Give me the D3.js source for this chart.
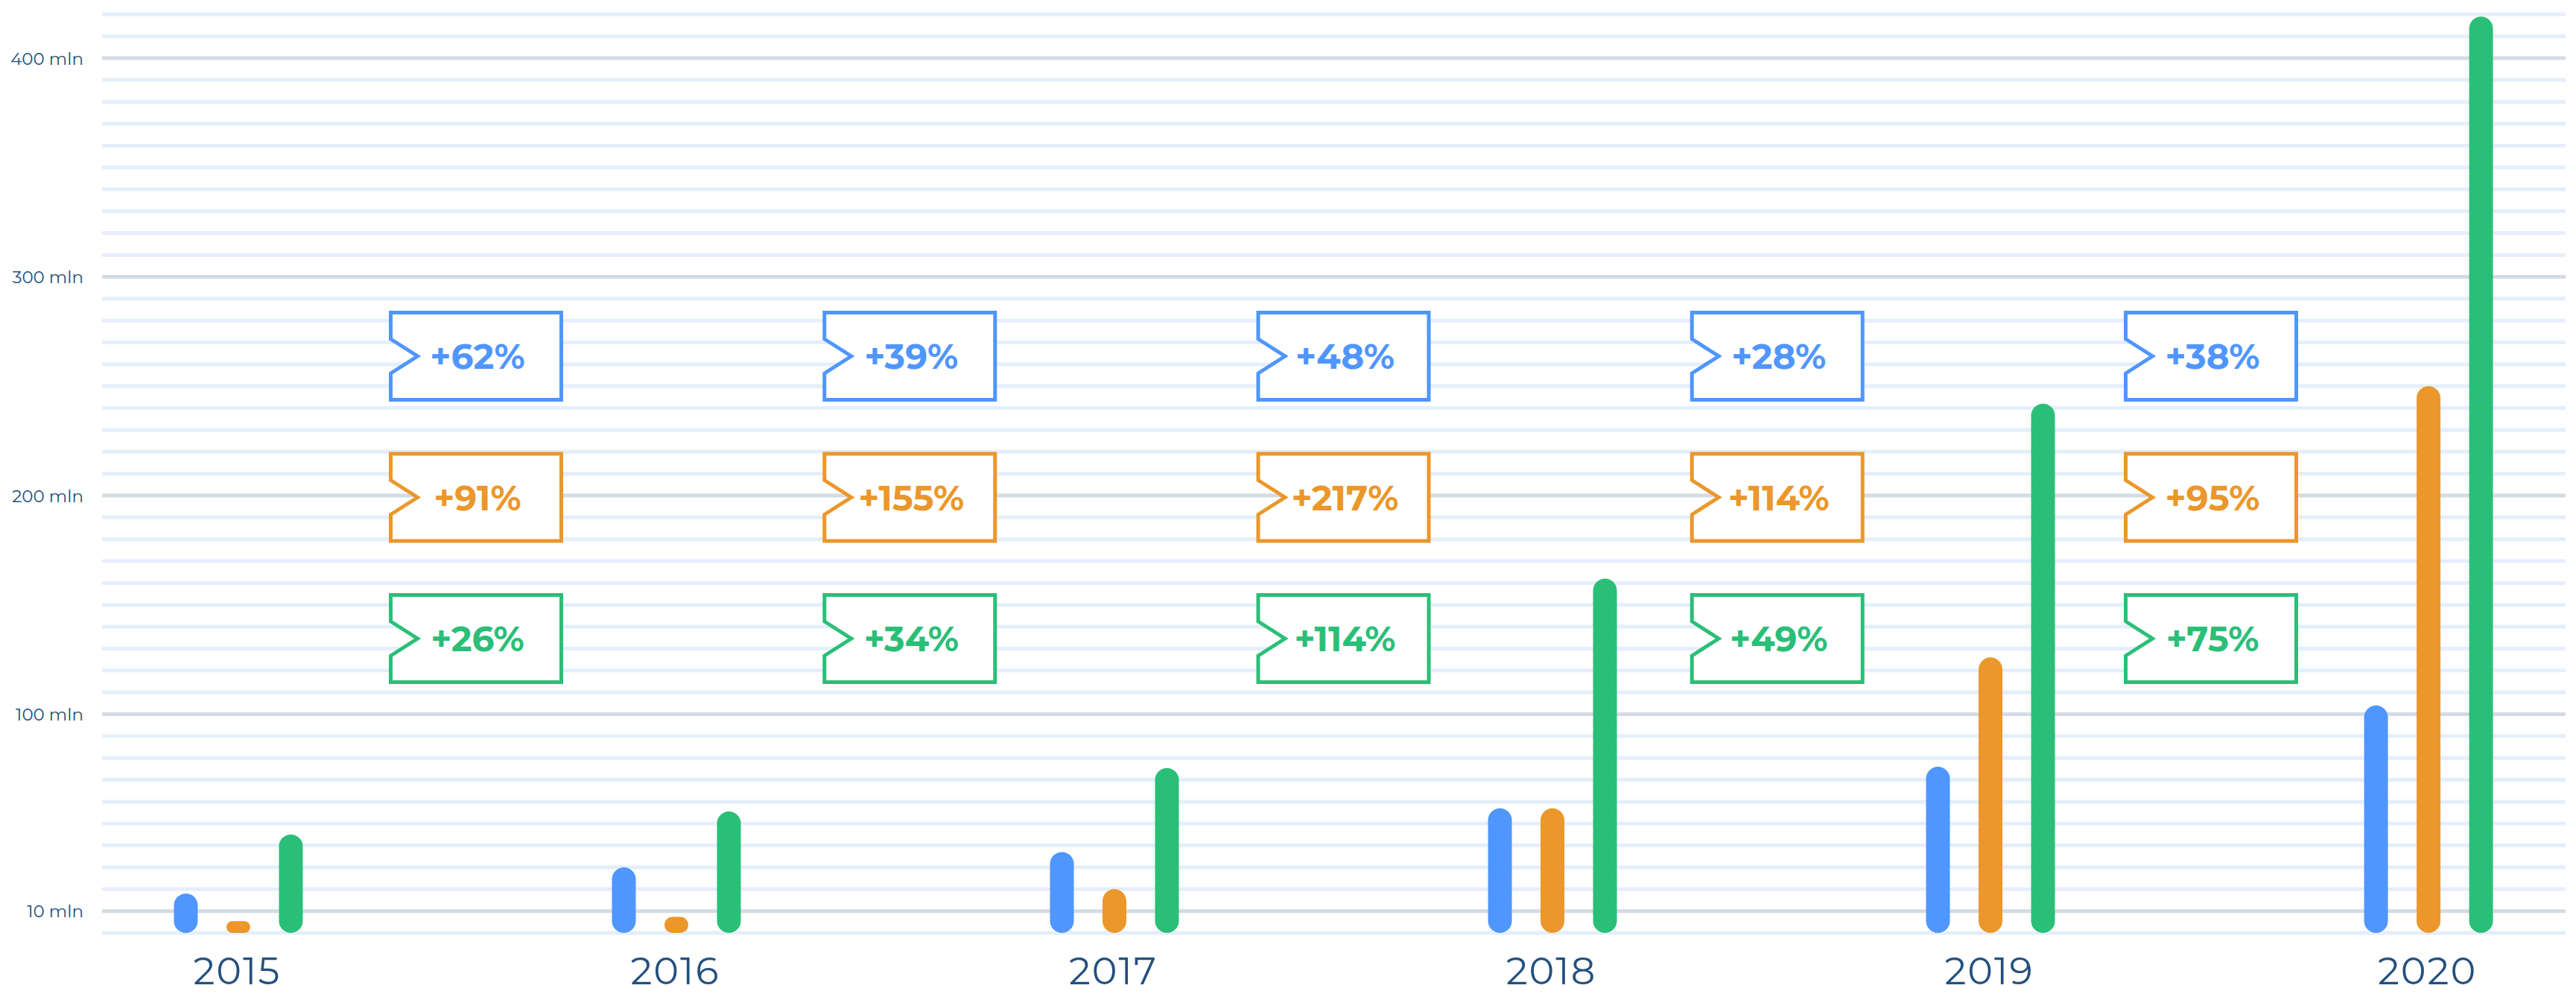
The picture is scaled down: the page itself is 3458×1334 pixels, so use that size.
<!DOCTYPE html>
<html>
<head>
<meta charset="utf-8">
<script src="https://cdn.jsdelivr.net/npm/d3@7"></script>
<style>
  body { margin: 0; background: #fff; }
  text { font-family: "Montserrat", "Inter", "Lato", sans-serif; }
</style>
</head>
<body>
<svg id="chart"></svg>
<script>
// data (mln)
const years = ["2015", "2016", "2017", "2018", "2019", "2020"];
const blueVals = [18, 30, 37, 57, 76, 104];
const orangeVals = [5.4, 7.3, 20, 57, 126, 250];
const greenVals = [45, 55.5, 75.4, 162, 242, 419];

// growth tags between consecutive years
const blueGrowth = ["+62%", "+39%", "+48%", "+28%", "+38%"];
const orangeGrowth = ["+91%", "+155%", "+217%", "+114%", "+95%"];
const greenGrowth = ["+26%", "+34%", "+114%", "+49%", "+75%"];

const yTicks = [10, 100, 200, 300, 400];
const yTickLabels = ["10 mln", "100 mln", "200 mln", "300 mln", "400 mln"];
const yMax = 420;
const gridStep = 10;

const width = 3458;
const height = 1334;
const colors = { blue: "#4f96fe", orange: "#eb972b", green: "#2abf77" };
const textColor = "#23507f";

const series = [
  { key: "blue", values: blueVals, growth: blueGrowth },
  { key: "orange", values: orangeVals, growth: orangeGrowth },
  { key: "green", values: greenVals, growth: greenGrowth }
];

const svg = d3.select("#chart").attr("width", width).attr("height", height);

const x = d3.scalePoint().domain(years).range([137, 3444]).padding(0.312);
const xSeries = d3.scalePoint().domain(series.map(s => s.key)).range([-71, 70]);
const y = d3.scaleLinear().domain([0, yMax]).range([1252, 19.3]);

// grid
const gridVals = d3.range(0, yMax + 1, gridStep);
svg.append("g")
  .selectAll("line")
  .data(gridVals)
  .join("line")
    .attr("x1", 137)
    .attr("x2", 3444)
    .attr("y1", d => y(d))
    .attr("y2", d => y(d))
    .attr("stroke", d => yTicks.includes(d) ? "#d3dce4" : "#e4eefc")
    .attr("stroke-width", 5);

// y labels
svg.append("g")
  .selectAll("text")
  .data(yTicks)
  .join("text")
    .attr("x", 112)
    .attr("y", d => y(d) + 8.5)
    .attr("text-anchor", "end")
    .attr("font-size", 23)
    .attr("fill", textColor)
    .text((d, i) => yTickLabels[i]);

// bars (corner radius shrinks for very short bars)
const barW = 32;
series.forEach(s => {
  svg.append("g")
    .selectAll("rect")
    .data(s.values)
    .join("rect")
      .attr("x", (d, i) => x(years[i]) + xSeries(s.key) - barW / 2)
      .attr("y", d => y(d))
      .attr("width", barW)
      .attr("height", d => y(0) - y(d))
      .attr("rx", d => Math.min(barW / 2, (y(0) - y(d)) / 2))
      .attr("ry", d => Math.min(barW / 2, (y(0) - y(d)) / 2))
      .attr("fill", colors[s.key]);
});

// year labels
svg.append("g")
  .selectAll("text")
  .data(years)
  .join("text")
    .attr("x", d => x(d) - 2)
    .attr("y", 1321)
    .attr("text-anchor", "middle")
    .attr("font-size", 51)
    .attr("letter-spacing", 2)
    .attr("fill", textColor)
    .text(d => d);

// growth tags
const steps = d3.range(years.length - 1);
const tagX = d3.scalePoint().domain(steps).range([522, 2851]);
const tagY = d3.scalePoint().domain(series.map(s => s.key)).range([478, 857]);
const sw = 5, tagW = 229, tagH = 117, notchD = 36, notchH = 23;

function tagPath(left, cy) {
  const x0 = left + sw / 2, y0 = cy - tagH / 2;
  return `M${x0},${y0}H${x0 + tagW}V${y0 + tagH}H${x0}V${cy + notchH}L${x0 + notchD},${cy}L${x0},${cy - notchH}Z`;
}

series.forEach(s => {
  const g = svg.append("g");
  g.selectAll("path")
    .data(s.growth)
    .join("path")
      .attr("d", (d, i) => tagPath(tagX(i), tagY(s.key)))
      .attr("fill", "#fff")
      .attr("stroke", colors[s.key])
      .attr("stroke-width", sw);
  g.selectAll("text")
    .data(s.growth)
    .join("text")
      .attr("x", (d, i) => tagX(i) + sw / 2 + tagW / 2 + 2)
      .attr("y", tagY(s.key) + 17)
      .attr("text-anchor", "middle")
      .attr("font-size", 47)
      .attr("font-weight", 700)
      .attr("fill", colors[s.key])
      .text(d => d);
});
</script>
</body>
</html>
